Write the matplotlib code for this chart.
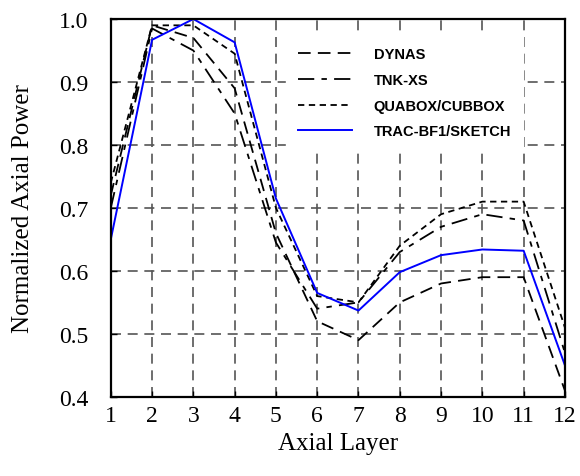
import numpy as np
import matplotlib
matplotlib.use("Agg")
import matplotlib.pyplot as plt

# axial power profiles from four code systems
layers = np.arange(1, 13)
dynas = [0.72, 0.99, 0.97, 0.89, 0.66, 0.52, 0.49, 0.55, 0.58, 0.59, 0.59, 0.41]
tnk_xs = [0.70, 0.985, 0.95, 0.85, 0.645, 0.54, 0.55, 0.63, 0.67, 0.69, 0.68, 0.47]
quabox = [0.74, 0.99, 0.99, 0.945, 0.70, 0.56, 0.55, 0.64, 0.69, 0.71, 0.71, 0.51]
trac = [0.65, 0.967, 1.0, 0.963, 0.715, 0.565, 0.537, 0.598, 0.625, 0.634, 0.632, 0.45]

fig = plt.figure(figsize=(5.8, 4.77), dpi=100)
ax = fig.add_axes([0.191, 0.166, 0.783, 0.792])

ax.plot(layers, dynas, color="black", lw=1.3, dashes=(7, 4), label="DYNAS")
ax.plot(layers, tnk_xs, color="black", lw=1.3, dashes=(9, 4, 3, 4), label="TNK-XS")
ax.plot(layers, quabox, color="black", lw=1.3, dashes=(3.5, 2.5), label="QUABOX/CUBBOX")
ax.plot(layers, trac, color="blue", lw=1.4, label="TRAC-BF1/SKETCH")

ax.set_xlim(1, 12)
ax.set_ylim(0.4, 1.0)
ax.set_xticks(layers)
yt = np.arange(0.4, 1.01, 0.1)
ax.set_yticks(yt)
ax.set_yticklabels([f"{v:.1f}" for v in yt])

ax.grid(True, color="#555555", lw=1.2, dashes=(6, 4))
ax.tick_params(direction="in", length=4, width=1, labelsize=17)
ax.tick_params(axis="y", pad=16)
ax.tick_params(axis="x", pad=6)
for lab in ax.get_xticklabels() + ax.get_yticklabels():
    lab.set_family("Liberation Serif")
for sp in ax.spines.values():
    sp.set_linewidth(1.6)

ax.set_xlabel("Axial Layer", family="Liberation Serif", fontsize=18, labelpad=4)
ax.set_ylabel("Normalized Axial Power", family="Liberation Serif", fontsize=18, labelpad=18)

ax.legend(loc="upper left", bbox_to_anchor=(0.37, 0.975), frameon=True,
          fancybox=False, framealpha=1, edgecolor="white",
          prop={"family": "Liberation Sans", "weight": "bold", "size": 10.5},
          handlelength=3.7, handletextpad=1.5, labelspacing=0.8,
          borderpad=0.8)

fig.savefig("out.png", dpi=100)
